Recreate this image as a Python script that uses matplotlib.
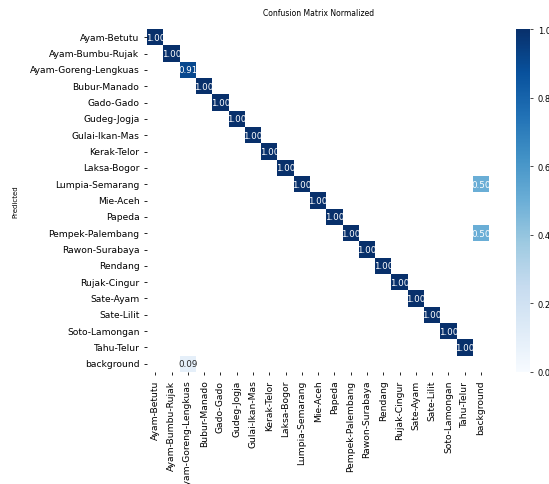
import numpy as np
import matplotlib
matplotlib.use("Agg")
import matplotlib.pyplot as plt
import seaborn as sns

# class names (rows = predicted, columns = true)
names = ["Ayam-Betutu", "Ayam-Bumbu-Rujak", "Ayam-Goreng-Lengkuas", "Bubur-Manado",
         "Gado-Gado", "Gudeg-Jogja", "Gulai-Ikan-Mas", "Kerak-Telor", "Laksa-Bogor",
         "Lumpia-Semarang", "Mie-Aceh", "Papeda", "Pempek-Palembang", "Rawon-Surabaya",
         "Rendang", "Rujak-Cingur", "Sate-Ayam", "Sate-Lilit", "Soto-Lamongan",
         "Tahu-Telur", "background"]

# normalized diagonal values (true positives per class)
diag_values = [1.00, 1.00, 0.91, 1.00, 1.00, 1.00, 1.00, 1.00, 1.00, 1.00,
               1.00, 1.00, 1.00, 1.00, 1.00, 1.00, 1.00, 1.00, 1.00, 1.00]

# off-diagonal cells: (predicted, true, value)
off_diag = [("background", "Ayam-Goreng-Lengkuas", 0.09),
            ("Lumpia-Semarang", "background", 0.50),
            ("Pempek-Palembang", "background", 0.50)]

n = len(names)
matrix = np.full((n, n), np.nan)
for i, v in enumerate(diag_values):
    matrix[i, i] = v
for pred, true, v in off_diag:
    matrix[names.index(pred), names.index(true)] = v

fig = plt.figure(figsize=(5.49, 4.85), dpi=100)
ax = fig.add_axes([0.268, 0.231, 0.623, 0.707])
cax = fig.add_axes([0.940, 0.231, 0.026, 0.707])

sns.heatmap(matrix, ax=ax, cbar_ax=cax, cmap="Blues", vmin=0.0, vmax=1.0,
            annot=True, fmt=".2f", annot_kws={"size": 6.3},
            xticklabels=names, yticklabels=names, square=False)

ax.set_title("Confusion Matrix Normalized", fontsize=5.5, pad=10)
ax.set_ylabel("Predicted", fontsize=5)
ax.set_xlabel("")
ax.tick_params(axis="both", labelsize=6.6, length=2, width=0.6)
ax.set_xticklabels(names, rotation=90)
ax.set_yticklabels(names, rotation=0)
ax.yaxis.set_label_coords(-0.375, 0.5)

cax.tick_params(labelsize=6, length=2, width=0.5)
cax.set_yticks([0.0, 0.2, 0.4, 0.6, 0.8, 1.0])
for s in cax.spines.values():
    s.set_visible(False)

fig.savefig("out.png", dpi=100)
